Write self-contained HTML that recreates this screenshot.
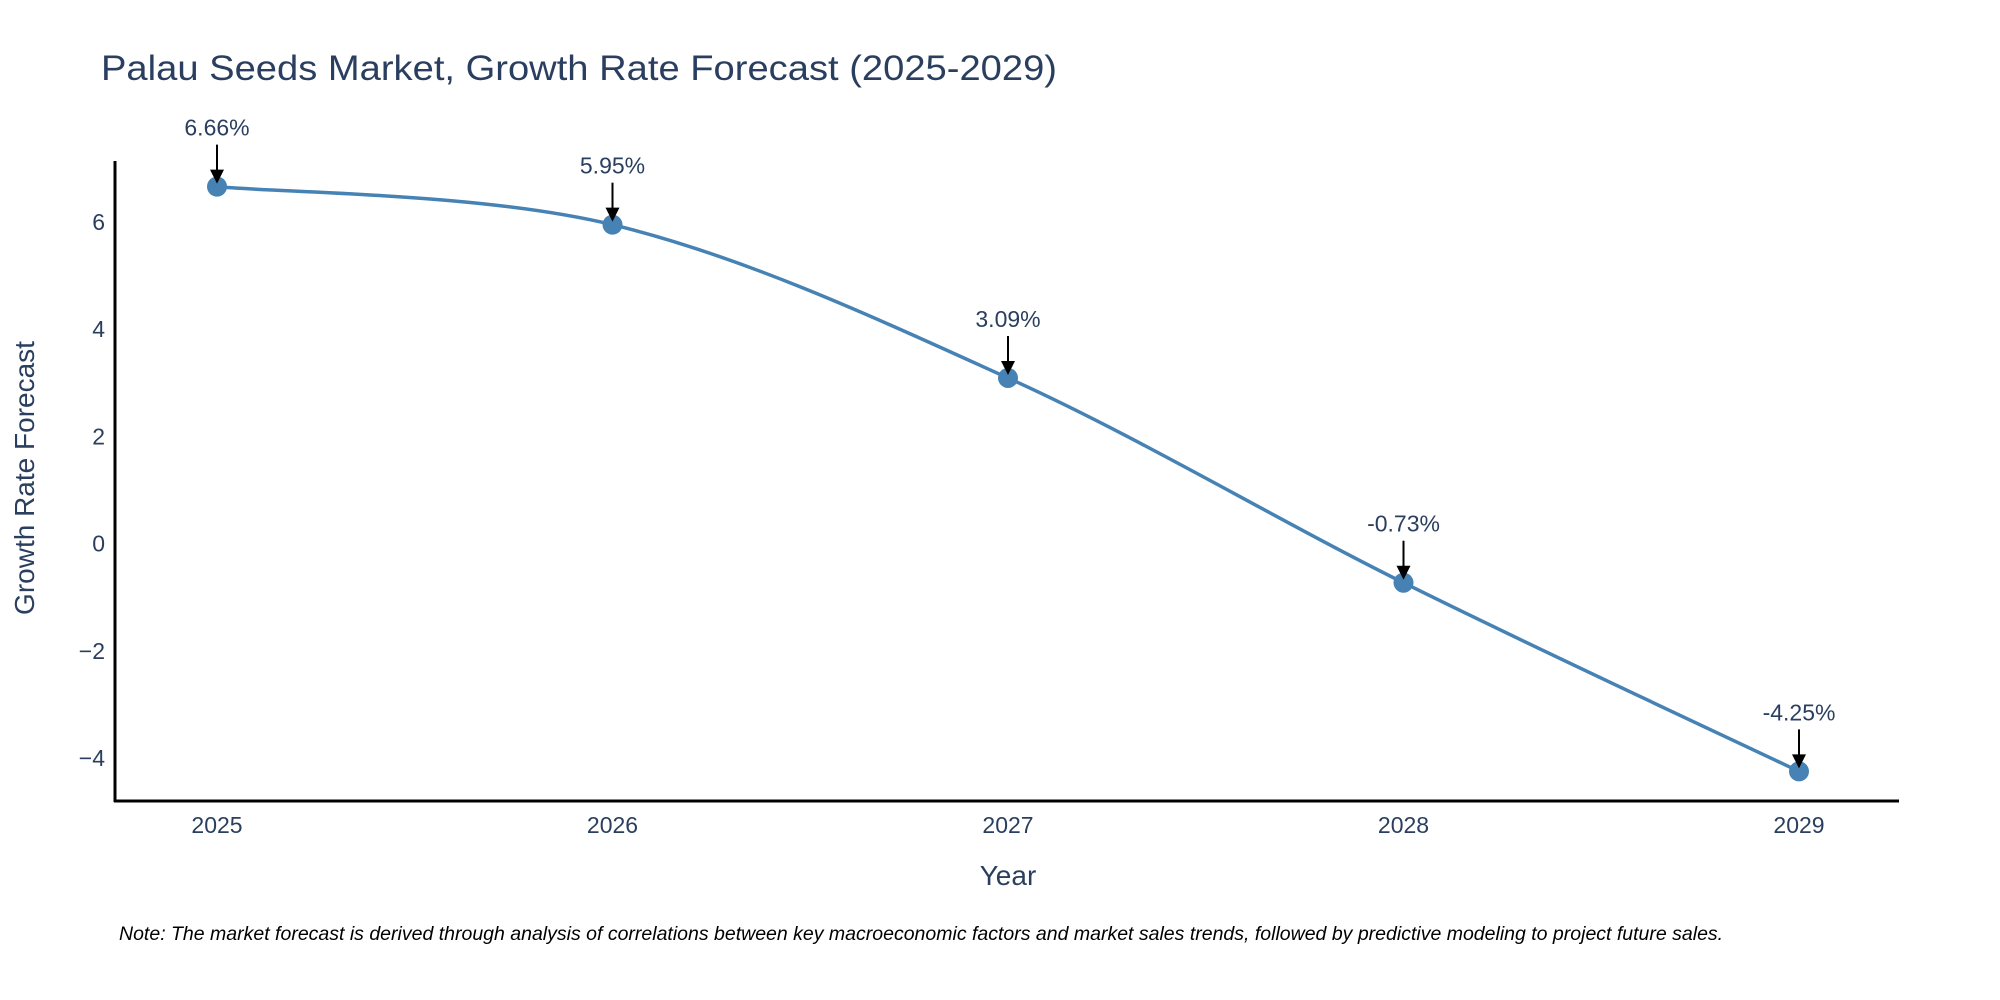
<!DOCTYPE html>
<html><head><meta charset="utf-8"><style>
html,body{margin:0;padding:0;background:#fff;}
svg{display:block;font-family:"Liberation Sans",sans-serif;}
</style></head><body>
<svg id="chart" width="2000" height="1000" viewBox="0 0 2000 1000">
<text x="101" y="80" font-size="35" fill="#2a3f5f" textLength="956" lengthAdjust="spacingAndGlyphs">Palau Seeds Market, Growth Rate Forecast (2025-2029)</text>
<g id="yticks"></g>
<g id="xticks"></g>
<line x1="115" y1="161" x2="115" y2="802" stroke="#000" stroke-width="3"/>
<line x1="114" y1="801" x2="1899" y2="801" stroke="#000" stroke-width="3"/>
<path id="line" fill="none" stroke="#4682b4" stroke-width="3.5"/>
<g id="marks"></g>
<text x="0" y="0" transform="translate(34,478) rotate(-90)" font-size="28" fill="#2a3f5f" text-anchor="middle">Growth Rate Forecast</text>
<text x="1008" y="885" font-size="28" fill="#2a3f5f" text-anchor="middle">Year</text>
<text x="119" y="940" font-size="19.5" font-style="italic" fill="#000">Note: The market forecast is derived through analysis of correlations between key macroeconomic factors and market sales trends, followed by predictive modeling to project future sales.</text>
</svg>
<script>
const categories = ["2025","2026","2027","2028","2029"];
const values = [6.66, 5.95, 3.09, -0.73, -4.25];
const labels = ["6.66%","5.95%","3.09%","-0.73%","-4.25%"];
const yTicks = [6,4,2,0,-2,-4];
const NS="http://www.w3.org/2000/svg";
const svg=document.getElementById('chart');
function xs(i){return 217+i*395.5;}
function ys(v){return 543.6-v*53.6;}
function mk(t,a){const e=document.createElementNS(NS,t);for(const k in a)e.setAttribute(k,a[k]);return e;}
const yg=document.getElementById('yticks');
yTicks.forEach(t=>{
  const e=mk('text',{x:105,y:ys(t)+8,'font-size':23,fill:'#2a3f5f','text-anchor':'end'});
  
  
  e.textContent=t<0?'\u2212'+Math.abs(t):String(t);yg.appendChild(e);
});
const xg=document.getElementById('xticks');
categories.forEach((c,i)=>{
  const e=mk('text',{x:xs(i),y:833,'font-size':23,fill:'#2a3f5f','text-anchor':'middle'});
  
  
  e.textContent=c;xg.appendChild(e);
});
const P=values.map((v,i)=>[xs(i),ys(v)]);
let d='M'+P[0][0]+','+P[0][1];
for(let i=0;i<P.length-1;i++){
  const p0=P[Math.max(i-1,0)],p1=P[i],p2=P[i+1],p3=P[Math.min(i+2,P.length-1)];
  const c1=[p1[0]+(p2[0]-p0[0])/6,p1[1]+(p2[1]-p0[1])/6];
  const c2=[p2[0]-(p3[0]-p1[0])/6,p2[1]-(p3[1]-p1[1])/6];
  d+=' C'+c1+' '+c2+' '+p2;
}
document.getElementById('line').setAttribute('d',d);
const mg=document.getElementById('marks');
P.forEach((p,i)=>{
  const c=mk('circle',{cx:p[0],cy:p[1],r:10,fill:'#4682b4'});
  
  
  mg.appendChild(c);
  const l=mk('line',{x1:p[0],y1:p[1]-42,x2:p[0],y2:p[1]-14,stroke:'#000','stroke-width':2});
  
  
  mg.appendChild(l);
  const h=mk('polygon',{points:(p[0]-7)+','+(p[1]-17)+' '+(p[0]+7)+','+(p[1]-17)+' '+p[0]+','+(p[1]-3),fill:'#000'});
  
  
  mg.appendChild(h);
  const t=mk('text',{x:p[0],y:p[1]-51,'font-size':23,fill:'#2a3f5f','text-anchor':'middle'});
  
  
  t.textContent=labels[i];mg.appendChild(t);
});
</script>
</body></html>
